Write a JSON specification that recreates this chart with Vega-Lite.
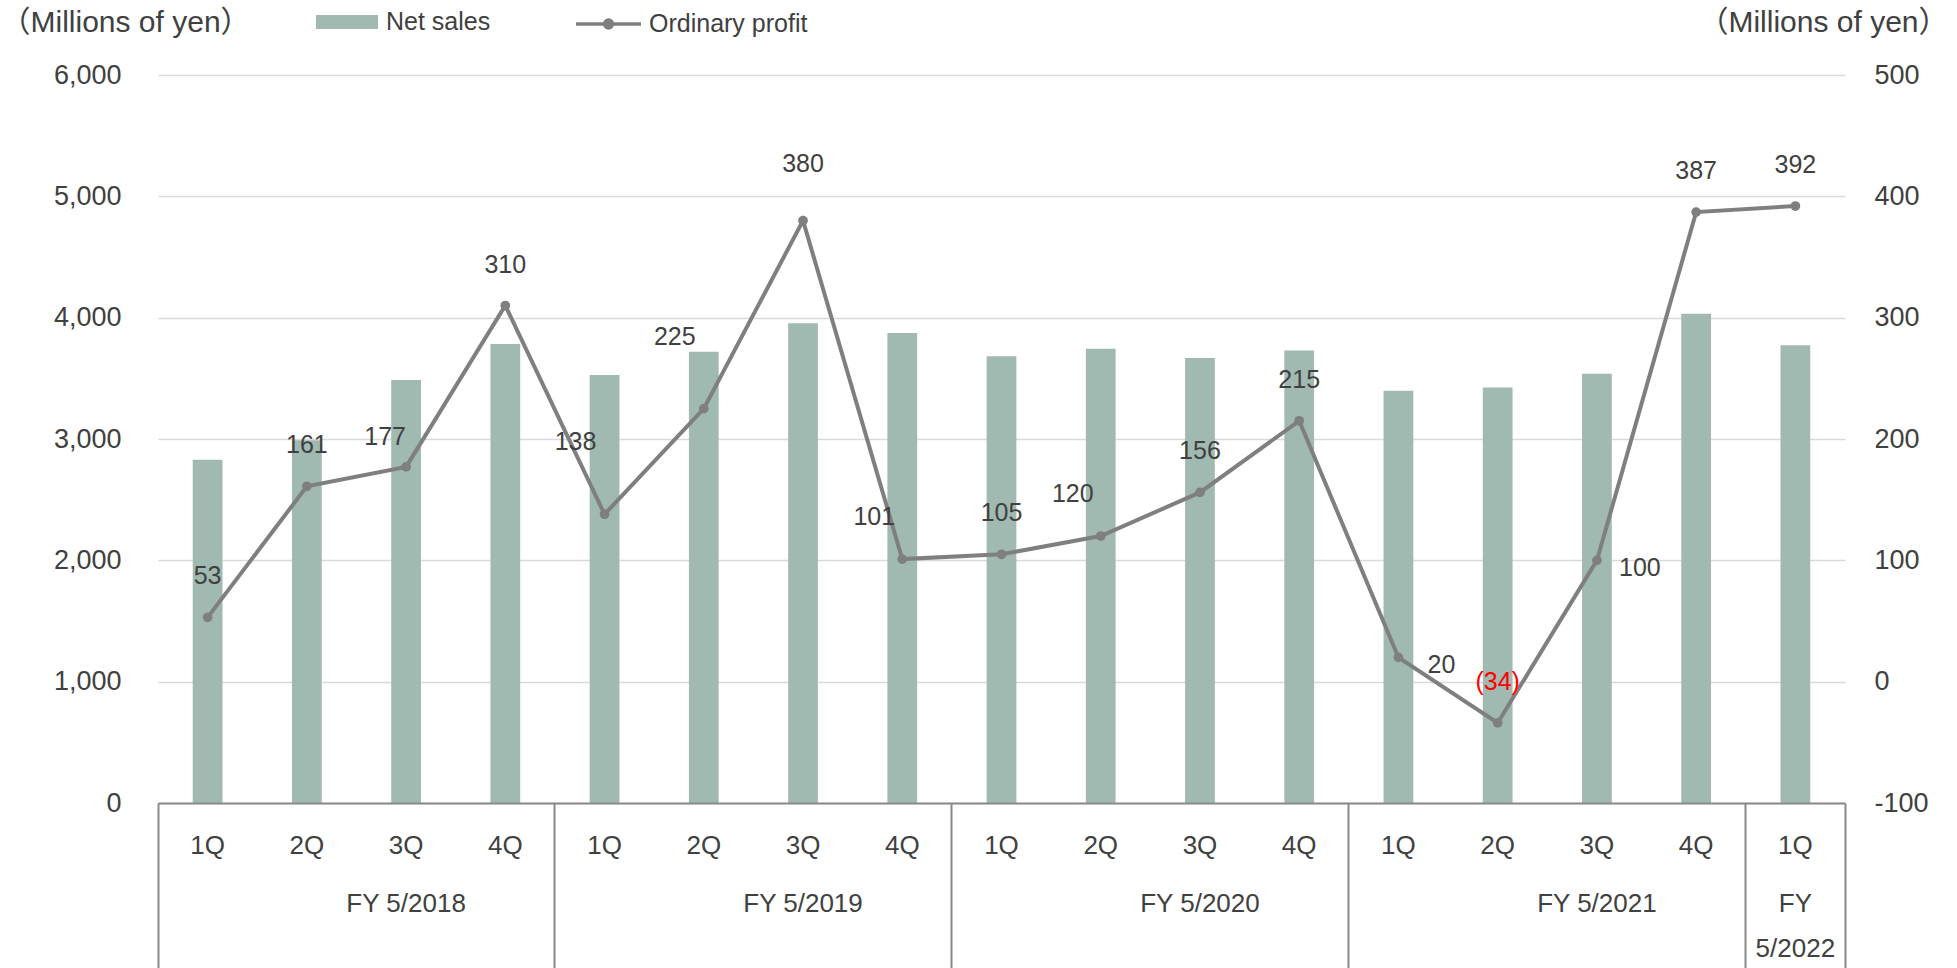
{
  "$schema": "https://vega.github.io/schema/vega-lite/v6.json",
  "width": 1687,
  "height": 728,
  "autosize": {"type": "none"},
  "padding": {"left": 158, "top": 75, "right": 112, "bottom": 165},
  "background": "white",
  "config": {
    "view": {"stroke": null},
    "font": "Liberation Sans, Noto Sans CJK JP, sans-serif",
    "axis": {"labelFont": "Liberation Sans, Noto Sans CJK JP, sans-serif", "labelColor": "#404040", "titleFont": "Liberation Sans, Noto Sans CJK JP, sans-serif"},
    "legend": {"labelFont": "Liberation Sans, Noto Sans CJK JP, sans-serif", "labelColor": "#404040"}
  },
  "data": {
    "values": [
      {"period": "2018 1Q", "sales": 2830, "profit": 53},
      {"period": "2018 2Q", "sales": 2990, "profit": 161},
      {"period": "2018 3Q", "sales": 3486, "profit": 177},
      {"period": "2018 4Q", "sales": 3783, "profit": 310},
      {"period": "2019 1Q", "sales": 3527, "profit": 138},
      {"period": "2019 2Q", "sales": 3720, "profit": 225},
      {"period": "2019 3Q", "sales": 3953, "profit": 380},
      {"period": "2019 4Q", "sales": 3874, "profit": 101},
      {"period": "2020 1Q", "sales": 3681, "profit": 105},
      {"period": "2020 2Q", "sales": 3744, "profit": 120},
      {"period": "2020 3Q", "sales": 3668, "profit": 156},
      {"period": "2020 4Q", "sales": 3730, "profit": 215},
      {"period": "2021 1Q", "sales": 3398, "profit": 20},
      {"period": "2021 2Q", "sales": 3424, "profit": -34},
      {"period": "2021 3Q", "sales": 3538, "profit": 100},
      {"period": "2021 4Q", "sales": 4033, "profit": 387},
      {"period": "2022 1Q", "sales": 3772, "profit": 392}
    ]
  },
  "layer": [
    {
      "mark": {"type": "bar", "width": {"band": 0.3}},
      "encoding": {
        "x": {
          "field": "period", "type": "nominal",
          "scale": {"paddingInner": 0, "paddingOuter": 0},
          "axis": {"orient": "bottom", "title": null, "labelExpr": "slice(datum.value, 5)", "ticks": false, "domain": true, "domainColor": "#898989", "domainWidth": 2, "labelPadding": 29, "labelFontSize": 26, "labelAngle": 0, "labelBaseline": "top", "grid": false, "zindex": 1}
        },
        "y": {
          "field": "sales", "type": "quantitative",
          "scale": {"domain": [0, 6000], "nice": false},
          "axis": {"orient": "left", "values": [0, 1000, 2000, 3000, 4000, 5000, 6000], "format": ",d", "title": "（Millions of yen）", "titleAngle": 0, "titleAlign": "left", "titleBaseline": "middle", "titleX": -158, "titleY": -53, "titleFontSize": 30, "titleFontWeight": "normal", "titleColor": "#404040", "domain": false, "ticks": false, "labelPadding": 37, "labelFontSize": 27, "grid": true, "gridColor": "#d9d9d9", "gridWidth": 1.5}
        },
        "fill": {
          "datum": "Net sales",
          "scale": {"range": ["#a0bab2"]},
          "legend": {"orient": "none", "legendX": 158, "legendY": -84, "title": null, "symbolType": "M-1,-0.226H1V0.226H-1Z", "symbolSize": 3844, "symbolStrokeWidth": 0, "labelFontSize": 25, "labelOffset": 8, "padding": 0}
        }
      }
    },
    {
      "mark": {"type": "line", "strokeWidth": 4},
      "encoding": {
        "x": {
          "field": "period", "type": "nominal",
          "axis": {"orient": "bottom", "title": null, "values": ["2018 1Q", "2019 1Q", "2020 1Q", "2021 1Q", "2022 1Q"], "bandPosition": 0, "labels": false, "domain": false, "ticks": true, "tickSize": 165, "tickWidth": 2, "tickColor": "#898989", "grid": false, "zindex": 1}
        },
        "y": {
          "field": "profit", "type": "quantitative",
          "scale": {"domain": [-100, 500], "nice": false, "zero": false},
          "axis": {"orient": "right", "values": [-100, 0, 100, 200, 300, 400, 500], "labelExpr": "datum.value < 0 ? '-' + abs(datum.value) : datum.label", "title": "（Millions of yen）", "titleAngle": 0, "titleAlign": "right", "titleBaseline": "middle", "titleX": 103, "titleY": -53, "titleFontSize": 30, "titleFontWeight": "normal", "titleColor": "#404040", "domain": false, "ticks": false, "labelPadding": 29, "labelFontSize": 27, "grid": false}
        },
        "stroke": {
          "datum": "Ordinary profit",
          "scale": {"range": ["#7f7f7f"]},
          "legend": {"orient": "none", "legendX": 416, "legendY": -85.5, "title": null, "symbolType": "M-1,0H1M0.12,0A0.12,0.12,0,1,1,-0.12,0A0.12,0.12,0,1,1,0.12,0", "symbolSize": 4225, "symbolStrokeWidth": 3.5, "symbolFillColor": "#7f7f7f", "labelFontSize": 25, "labelOffset": 6, "padding": 0}
        }
      }
    },
    {
      "mark": {"type": "point", "filled": true, "size": 95, "color": "#7f7f7f", "opacity": 1},
      "encoding": {
        "x": {
          "field": "period", "type": "nominal",
          "axis": {"orient": "bottom", "title": null, "values": ["2022 1Q"], "bandPosition": 1, "labels": false, "domain": false, "ticks": true, "tickSize": 165, "tickWidth": 2, "tickColor": "#898989", "grid": false, "zindex": 1}
        },
        "y": {"field": "profit", "type": "quantitative", "scale": {"domain": [-100, 500], "nice": false, "zero": false}, "axis": null}
      }
    },
    {
      "transform": [{"filter": {"field": "period", "oneOf": ["2018 1Q", "2018 2Q", "2018 4Q", "2020 1Q", "2020 3Q", "2020 4Q", "2021 2Q", "2021 4Q", "2022 1Q"]}}],
      "mark": {"type": "text", "dy": -41, "fontSize": 25},
      "encoding": {
        "x": {
          "field": "period", "type": "nominal",
          "axis": {"orient": "bottom", "title": null, "values": ["2018 3Q", "2019 3Q", "2020 3Q", "2021 3Q"], "bandPosition": 0, "labelExpr": "'FY 5/' + slice(datum.value, 0, 4)", "ticks": false, "domain": false, "labelPadding": 87, "labelFontSize": 26, "labelBaseline": "top", "labelAngle": 0, "labelOverlap": false, "grid": false}
        },
        "y": {"field": "profit", "type": "quantitative", "scale": {"domain": [-100, 500], "nice": false, "zero": false}, "axis": null},
        "text": {"field": "profit", "type": "quantitative", "format": "(.0f"},
        "color": {"condition": {"test": "datum.profit < 0", "value": "#ff0000"}, "value": "#404040"}
      }
    },
    {
      "transform": [{"filter": {"field": "period", "oneOf": ["2019 3Q"]}}],
      "mark": {"type": "text", "dy": -57, "fontSize": 25, "color": "#404040"},
      "encoding": {
        "x": {
          "field": "period", "type": "nominal",
          "axis": {"orient": "bottom", "title": null, "values": ["2022 1Q"], "labelExpr": "['FY', '5/2022']", "labelLineHeight": 45, "ticks": false, "domain": false, "labelPadding": 87, "labelFontSize": 26, "labelBaseline": "top", "labelAngle": 0, "labelOverlap": false, "grid": false}
        },
        "y": {"field": "profit", "type": "quantitative", "scale": {"domain": [-100, 500], "nice": false, "zero": false}, "axis": null},
        "text": {"field": "profit", "type": "quantitative", "format": "(.0f"}
      }
    },
    {
      "transform": [{"filter": {"field": "period", "oneOf": ["2018 3Q"]}}],
      "mark": {"type": "text", "dx": -21, "dy": -30, "fontSize": 25, "color": "#404040"},
      "encoding": {
        "x": {"field": "period", "type": "nominal", "axis": null},
        "y": {"field": "profit", "type": "quantitative", "scale": {"domain": [-100, 500], "nice": false, "zero": false}, "axis": null},
        "text": {"field": "profit", "type": "quantitative", "format": "(.0f"}
      }
    },
    {
      "transform": [{"filter": {"field": "period", "oneOf": ["2019 1Q", "2019 2Q"]}}],
      "mark": {"type": "text", "dx": -29, "dy": -72, "fontSize": 25, "color": "#404040"},
      "encoding": {
        "x": {"field": "period", "type": "nominal", "axis": null},
        "y": {"field": "profit", "type": "quantitative", "scale": {"domain": [-100, 500], "nice": false, "zero": false}, "axis": null},
        "text": {"field": "profit", "type": "quantitative", "format": "(.0f"}
      }
    },
    {
      "transform": [{"filter": {"field": "period", "oneOf": ["2019 4Q", "2020 2Q"]}}],
      "mark": {"type": "text", "dx": -28, "dy": -42, "fontSize": 25, "color": "#404040"},
      "encoding": {
        "x": {"field": "period", "type": "nominal", "axis": null},
        "y": {"field": "profit", "type": "quantitative", "scale": {"domain": [-100, 500], "nice": false, "zero": false}, "axis": null},
        "text": {"field": "profit", "type": "quantitative", "format": "(.0f"}
      }
    },
    {
      "transform": [{"filter": {"field": "period", "oneOf": ["2021 1Q", "2021 3Q"]}}],
      "mark": {"type": "text", "dx": 43, "dy": 8, "fontSize": 25, "color": "#404040"},
      "encoding": {
        "x": {"field": "period", "type": "nominal", "axis": null},
        "y": {"field": "profit", "type": "quantitative", "scale": {"domain": [-100, 500], "nice": false, "zero": false}, "axis": null},
        "text": {"field": "profit", "type": "quantitative", "format": "(.0f"}
      }
    }
  ],
  "resolve": {"scale": {"y": "independent"}, "axis": {"x": "independent"}}
}
